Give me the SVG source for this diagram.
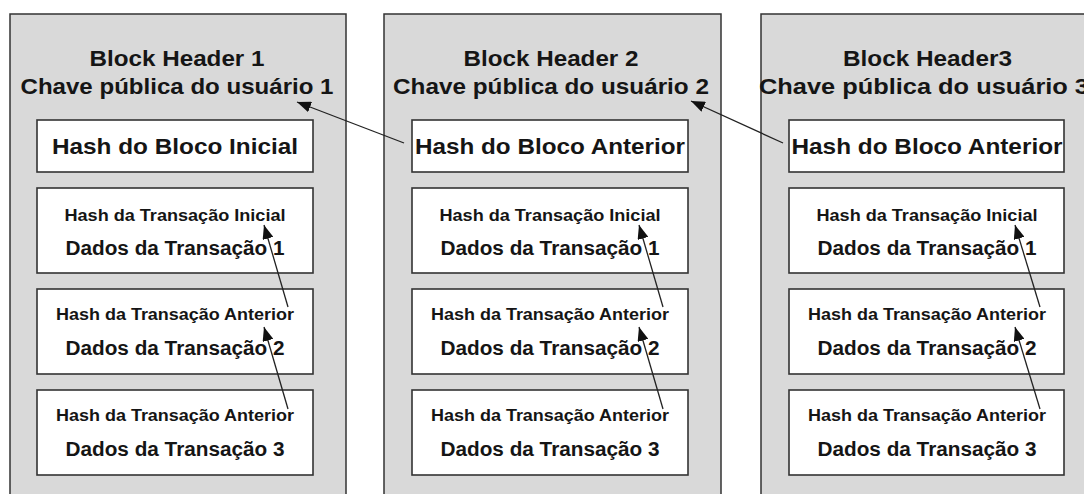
<svg xmlns="http://www.w3.org/2000/svg" width="1084" height="494" viewBox="0 0 1084 494">
  <defs>
    <marker id="arrow" viewBox="0 0 14 11" refX="14" refY="5.5" markerWidth="14" markerHeight="11" markerUnits="userSpaceOnUse" orient="auto">
      <path d="M0,0 L14,5.5 L0,11 z" fill="#111"/>
    </marker>
  </defs>
  <style>
    .block { fill: #d9d9d9; stroke: #333; stroke-width: 1.5; }
    .box { fill: #fff; stroke: #333; stroke-width: 1.6; }
    text { font-family: "Liberation Sans", Arial, sans-serif; font-weight: bold; fill: #151515; text-anchor: middle; }
    .hdr { font-size: 21.5px; }
    .hb { font-size: 21.5px; }
    .ht { font-size: 16px; }
    .dt { font-size: 20px; }
    .link { stroke: #222; stroke-width: 1.3; fill: none; marker-end: url(#arrow); }
  </style>

  <!-- Block 1 -->
  <g id="block1">
    <rect class="block" x="10" y="14" width="336" height="500"/>
    <text class="hdr" x="177" y="66" textLength="175" lengthAdjust="spacingAndGlyphs">Block Header 1</text>
    <text class="hdr" x="177" y="94" textLength="313" lengthAdjust="spacingAndGlyphs">Chave pública do usuário 1</text>
    <g id="block1-hash">
      <rect class="box" x="37" y="120" width="276" height="52"/>
      <text class="hb" x="175" y="154" textLength="246" lengthAdjust="spacingAndGlyphs">Hash do Bloco Inicial</text>
    </g>
    <g id="block1-tx1">
      <rect class="box" x="37" y="188" width="276" height="85"/>
      <text class="ht" x="175" y="221" textLength="221" lengthAdjust="spacingAndGlyphs">Hash da Transação Inicial</text>
      <text class="dt" x="175" y="255" textLength="219" lengthAdjust="spacingAndGlyphs">Dados da Transação 1</text>
    </g>
    <g id="block1-tx2">
      <rect class="box" x="37" y="289" width="276" height="85"/>
      <text class="ht" x="175" y="320" textLength="238" lengthAdjust="spacingAndGlyphs">Hash da Transação Anterior</text>
      <text class="dt" x="175" y="355" textLength="219" lengthAdjust="spacingAndGlyphs">Dados da Transação 2</text>
    </g>
    <g id="block1-tx3">
      <rect class="box" x="37" y="390" width="276" height="85"/>
      <text class="ht" x="175" y="421" textLength="238" lengthAdjust="spacingAndGlyphs">Hash da Transação Anterior</text>
      <text class="dt" x="175" y="456" textLength="219" lengthAdjust="spacingAndGlyphs">Dados da Transação 3</text>
    </g>
  </g>

  <!-- Block 2 -->
  <g id="block2">
    <rect class="block" x="384" y="14" width="337" height="500"/>
    <text class="hdr" x="551" y="66" textLength="175" lengthAdjust="spacingAndGlyphs">Block Header 2</text>
    <text class="hdr" x="551" y="94" textLength="316" lengthAdjust="spacingAndGlyphs">Chave pública do usuário 2</text>
    <g id="block2-hash">
      <rect class="box" x="412" y="120" width="276" height="52"/>
      <text class="hb" x="550" y="154" textLength="270" lengthAdjust="spacingAndGlyphs">Hash do Bloco Anterior</text>
    </g>
    <g id="block2-tx1">
      <rect class="box" x="412" y="188" width="276" height="85"/>
      <text class="ht" x="550" y="221" textLength="221" lengthAdjust="spacingAndGlyphs">Hash da Transação Inicial</text>
      <text class="dt" x="550" y="255" textLength="219" lengthAdjust="spacingAndGlyphs">Dados da Transação 1</text>
    </g>
    <g id="block2-tx2">
      <rect class="box" x="412" y="289" width="276" height="85"/>
      <text class="ht" x="550" y="320" textLength="238" lengthAdjust="spacingAndGlyphs">Hash da Transação Anterior</text>
      <text class="dt" x="550" y="355" textLength="219" lengthAdjust="spacingAndGlyphs">Dados da Transação 2</text>
    </g>
    <g id="block2-tx3">
      <rect class="box" x="412" y="390" width="276" height="85"/>
      <text class="ht" x="550" y="421" textLength="238" lengthAdjust="spacingAndGlyphs">Hash da Transação Anterior</text>
      <text class="dt" x="550" y="456" textLength="219" lengthAdjust="spacingAndGlyphs">Dados da Transação 3</text>
    </g>
  </g>

  <!-- Block 3 -->
  <g id="block3">
    <rect class="block" x="761" y="14" width="340" height="500"/>
    <text class="hdr" x="927.5" y="66" textLength="169" lengthAdjust="spacingAndGlyphs">Block Header3</text>
    <text class="hdr" x="759" y="94" textLength="330" lengthAdjust="spacingAndGlyphs" style="text-anchor:start">Chave pública do usuário 3</text>
    <g id="block3-hash">
      <rect class="box" x="789" y="120" width="275" height="52"/>
      <text class="hb" x="927" y="154" textLength="271" lengthAdjust="spacingAndGlyphs">Hash do Bloco Anterior</text>
    </g>
    <g id="block3-tx1">
      <rect class="box" x="789" y="188" width="275" height="85"/>
      <text class="ht" x="927" y="221" textLength="221" lengthAdjust="spacingAndGlyphs">Hash da Transação Inicial</text>
      <text class="dt" x="927" y="255" textLength="219" lengthAdjust="spacingAndGlyphs">Dados da Transação 1</text>
    </g>
    <g id="block3-tx2">
      <rect class="box" x="789" y="289" width="275" height="85"/>
      <text class="ht" x="927" y="320" textLength="238" lengthAdjust="spacingAndGlyphs">Hash da Transação Anterior</text>
      <text class="dt" x="927" y="355" textLength="219" lengthAdjust="spacingAndGlyphs">Dados da Transação 2</text>
    </g>
    <g id="block3-tx3">
      <rect class="box" x="789" y="390" width="275" height="85"/>
      <text class="ht" x="927" y="421" textLength="238" lengthAdjust="spacingAndGlyphs">Hash da Transação Anterior</text>
      <text class="dt" x="927" y="456" textLength="219" lengthAdjust="spacingAndGlyphs">Dados da Transação 3</text>
    </g>
  </g>

  <!-- Connectors: each hash points back to the previous item -->
  <g id="connectors">
    <line class="link" x1="404" y1="143" x2="297" y2="102"/>
    <line class="link" x1="783" y1="143" x2="691" y2="101"/>
    <line class="link" x1="288" y1="307" x2="264" y2="225"/>
    <line class="link" x1="288" y1="409" x2="264" y2="327"/>
    <line class="link" x1="663" y1="307" x2="639" y2="225"/>
    <line class="link" x1="663" y1="409" x2="639" y2="327"/>
    <line class="link" x1="1040" y1="307" x2="1015" y2="225"/>
    <line class="link" x1="1040" y1="409" x2="1015" y2="327"/>
  </g>
</svg>
